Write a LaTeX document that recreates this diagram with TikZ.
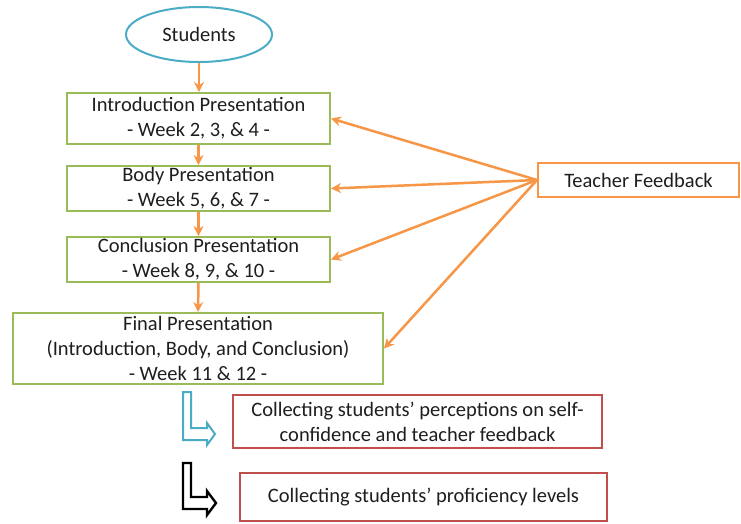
\documentclass[tikz,border=0pt]{standalone}
\usepackage{fontspec}
\setmainfont{Carlito}
\usetikzlibrary{arrows.meta,shapes.geometric}
\definecolor{orng}{HTML}{F79646}
\definecolor{grn}{HTML}{9BBB59}
\definecolor{blu}{HTML}{4BACC6}
\definecolor{rd}{HTML}{C0504D}
\definecolor{txt}{HTML}{1E1E1E}
\tikzset{
  base/.style={inner sep=0pt, align=center, text=txt, font=\fontsize{20.5}{25}\selectfont},
  greenbox/.style={base, draw=grn, line width=2pt, fill=white},
  redbox/.style={base, draw=rd, line width=1.8pt, fill=white},
  orangebox/.style={base, draw=orng, line width=2pt, fill=white},
  flow/.style={draw=orng, line width=2.5pt, -{Stealth[length=10pt,width=10pt]}},
}
\begin{document}
\begin{tikzpicture}[x=1pt,y=-1pt]
\useasboundingbox[fill=white] (0,0) rectangle (741,523);
\node[base, ellipse, draw=blu, line width=2pt, minimum width=146pt, minimum height=55pt] (stud) at (199,34.5) {Students};
\node[greenbox, minimum width=263pt, minimum height=51pt] (intro) at (198.5,118.5) {Introduction Presentation\\- Week 2, 3, \& 4 -};
\node[greenbox, minimum width=263pt, minimum height=45pt] (body) at (198.5,188.5) {Body Presentation\\- Week 5, 6, \& 7 -};
\node[greenbox, minimum width=263pt, minimum height=45pt] (concl) at (198.5,259.5) {Conclusion Presentation\\- Week 8, 9, \& 10 -};
\node[greenbox, minimum width=370pt, minimum height=71pt] (final) at (198,348.5) {Final Presentation\\(Introduction, Body, and Conclusion)\\- Week 11 \& 12 -};
\node[orangebox, minimum width=201pt, minimum height=34pt] (teach) at (638.5,180) {Teacher Feedback};
\node[redbox, minimum width=369pt, minimum height=53pt] (col1) at (417.5,421.5) {Collecting students’ perceptions on self-\\confidence and teacher feedback};
\node[redbox, minimum width=367pt, minimum height=48pt] (col2) at (423.5,497) {Collecting students’ proficiency levels};
% vertical flow
\draw[flow] (stud.south) -- (stud.south |- intro.north);
\draw[flow] (intro.south) -- (body.north);
\draw[flow] (body.south) -- (concl.north);
\draw[flow] (concl.south) -- (final.north);
% feedback
\draw[flow] (teach.west) -- (intro.east);
\draw[flow] (teach.west) -- (body.east);
\draw[flow] (teach.west) -- (concl.east);
\draw[flow] (teach.west) -- (final.east);
% bent arrows
\draw[blu, line width=2pt, line join=miter] (183,392) -- (191,392) -- (191,428) -- (207,428) -- (207,423) -- (215,434) -- (207,445) -- (207,440) -- (183,440) -- cycle;
\draw[black, line width=2.4pt, line join=miter] (183,463) -- (191,463) -- (191,497) -- (207,497) -- (207,491) -- (216,503) -- (207,515) -- (207,509) -- (183,509) -- cycle;
\end{tikzpicture}
\end{document}
